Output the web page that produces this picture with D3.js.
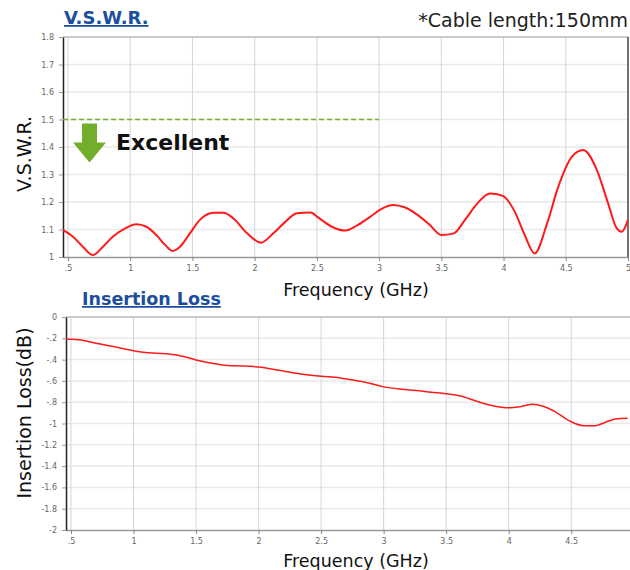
<!DOCTYPE html>
<html>
<head>
<meta charset="utf-8">
<script src="https://cdn.jsdelivr.net/npm/d3@7"></script>
<style>
  body { margin: 0; background: #fff; }
  svg { display: block; font-family: "DejaVu Sans", Verdana, sans-serif; }
</style>
</head>
<body>
<svg width="630" height="570"></svg>
<script>
// frequency ticks shared by both panels
const X_TICKS = [0.5, 1, 1.5, 2, 2.5, 3, 3.5, 4, 4.5, 5];
const X_TICK_LABELS = [".5", "1", "1.5", "2", "2.5", "3", "3.5", "4", "4.5", "5"];

// V.S.W.R. panel
const VSWR_TICKS = [1, 1.1, 1.2, 1.3, 1.4, 1.5, 1.6, 1.7, 1.8];
const VSWR_TICK_LABELS = ["1", "1.1", "1.2", "1.3", "1.4", "1.5", "1.6", "1.7", "1.8"];
const VSWR_FREQ = [0.46, 0.54, 0.62, 0.70, 0.78, 0.86, 0.96, 1.05, 1.13, 1.21, 1.28, 1.34, 1.40, 1.48,
  1.56, 1.67, 1.75, 1.83, 1.94, 2.05, 2.15, 2.24, 2.34, 2.45, 2.51, 2.62, 2.73, 2.82, 2.93, 3.02,
  3.11, 3.21, 3.30, 3.40, 3.50, 3.60, 3.69, 3.79, 3.89, 3.99, 4.09, 4.17, 4.25, 4.35, 4.44, 4.55,
  4.64, 4.75, 4.84, 4.91, 4.95, 5.0];
const VSWR_VAL = [1.098, 1.074, 1.037, 1.007, 1.037, 1.074, 1.104, 1.119, 1.11, 1.08, 1.044, 1.022,
  1.037, 1.086, 1.135, 1.161, 1.161, 1.14, 1.086, 1.052, 1.086, 1.125, 1.159, 1.162, 1.144, 1.11,
  1.096, 1.114, 1.147, 1.175, 1.189, 1.18, 1.156, 1.12, 1.08, 1.086, 1.135, 1.195, 1.231, 1.223,
  1.165, 1.08, 1.013, 1.122, 1.256, 1.365, 1.389, 1.316, 1.195, 1.104, 1.092, 1.135];
const LIMIT_VALUE = 1.5;
const LIMIT_END = 3;

// Insertion loss panel
const IL_TICKS = [0, -0.2, -0.4, -0.6, -0.8, -1, -1.2, -1.4, -1.6, -1.8, -2];
const IL_TICK_LABELS = ["0", "-.2", "-.4", "-.6", "-.8", "-1", "-1.2", "-1.4", "-1.6", "-1.8", "-2"];
const IL_FREQ = [0.46, 0.5, 0.58, 0.70, 0.84, 1.0, 1.08, 1.19, 1.28, 1.40, 1.5, 1.63, 1.75, 1.86, 2.0,
  2.15, 2.30, 2.5, 2.65, 2.74, 2.88, 3.0, 3.14, 3.26, 3.38, 3.5, 3.61, 3.75, 3.90, 4.0, 4.10, 4.19,
  4.28, 4.37, 4.45, 4.5, 4.60, 4.69, 4.77, 4.86, 4.95];
const IL_VAL = [-0.206, -0.21, -0.215, -0.247, -0.278, -0.316, -0.33, -0.34, -0.347, -0.37, -0.403,
  -0.434, -0.456, -0.46, -0.47, -0.497, -0.528, -0.556, -0.572, -0.59, -0.62, -0.656, -0.678, -0.69,
  -0.706, -0.72, -0.74, -0.794, -0.84, -0.853, -0.84, -0.82, -0.84, -0.888, -0.95, -0.984, -1.02,
  -1.02, -0.99, -0.956, -0.95];

const svg = d3.select("svg");

function drawPanel(cfg) {
  const x = d3.scaleLinear().domain(cfg.xDomain).range(cfg.xRange);
  const y = d3.scaleLinear().domain(cfg.yDomain).range(cfg.yRange);
  const [x0, x1] = cfg.xRange;
  const [yb, yt] = cfg.yRange;
  const g = svg.append("g");

  // horizontal grid
  g.selectAll(".hgrid").data(cfg.yTicks.filter(d => y(d) < yb - 1)).enter().append("line")
    .attr("x1", x0).attr("x2", x1)
    .attr("y1", d => y(d)).attr("y2", d => y(d))
    .attr("stroke", "#e9e9e9").attr("stroke-width", 1.5);

  // vertical grid
  const xt = X_TICKS.filter(d => d <= cfg.xDomain[1]);
  g.selectAll(".vgrid").data(xt).enter().append("line")
    .attr("x1", d => x(d)).attr("x2", d => x(d))
    .attr("y1", yt).attr("y2", yb)
    .attr("stroke", "#d6d6d6").attr("stroke-width", 1);

  // top border
  g.append("line").attr("x1", x0).attr("x2", x1).attr("y1", yt).attr("y2", yt)
    .attr("stroke", "#aaa").attr("stroke-width", 1.2);
  if (cfg.rightBorder) {
    g.append("line").attr("x1", x1).attr("x2", x1).attr("y1", yt).attr("y2", yb)
      .attr("stroke", "#222").attr("stroke-width", 1.2);
  }

  // x axis
  const xAxis = d3.axisBottom(x).tickValues(xt)
    .tickFormat(d => X_TICK_LABELS[X_TICKS.indexOf(d)])
    .tickSize(4).tickSizeOuter(0);
  const gx = g.append("g").attr("transform", `translate(0,${yb})`).call(xAxis);
  gx.select(".domain").attr("stroke", "#999").attr("stroke-width", 1.5);
  gx.selectAll(".tick line").attr("stroke", "#888");
  gx.selectAll(".tick text").attr("fill", "#666").attr("font-size", 8).attr("dy", "0.9em")
    .attr("font-family", "DejaVu Sans, sans-serif");

  // y axis
  const yAxis = d3.axisLeft(y).tickValues(cfg.yTicks)
    .tickFormat((d, i) => cfg.yLabels[i])
    .tickSize(4).tickSizeOuter(0);
  const gy = g.append("g").attr("transform", `translate(${x0},0)`).call(yAxis);
  gy.select(".domain").attr("stroke", "#222").attr("stroke-width", 1.5);
  gy.selectAll(".tick line").attr("stroke", "#999");
  gy.selectAll(".tick text").attr("fill", "#666").attr("font-size", 8).attr("x", -9)
    .attr("font-family", "DejaVu Sans, sans-serif");

  // curve
  const line = d3.line().x(d => x(d[0])).y(d => y(d[1])).curve(d3.curveMonotoneX);
  g.append("path")
    .datum(cfg.freq.map((f, i) => [f, cfg.vals[i]]))
    .attr("d", line)
    .attr("fill", "none")
    .attr("stroke", "#ff1a1a")
    .attr("stroke-width", cfg.lineWidth)
    .attr("stroke-linejoin", "round");

  // axis titles
  svg.append("text")
    .attr("x", cfg.xTitlePos[0]).attr("y", cfg.xTitlePos[1])
    .attr("text-anchor", "middle").attr("font-size", 17.5).attr("fill", "#111")
    .text("Frequency (GHz)");
  svg.append("text")
    .attr("transform", `translate(${cfg.yTitlePos[0]},${cfg.yTitlePos[1]}) rotate(-90)`)
    .attr("text-anchor", "middle").attr("font-size", 19).attr("fill", "#111")
    .text(cfg.yTitle);

  // panel heading
  svg.append("text")
    .attr("x", cfg.headPos[0]).attr("y", cfg.headPos[1])
    .attr("font-size", cfg.headSize).attr("font-weight", "bold").attr("fill", "#1b4f9e")
    .attr("text-decoration", "underline")
    .text(cfg.heading);

  return { x, y, g };
}

const vswrPanel = drawPanel({
  xDomain: [0.46, 5], xRange: [63, 628],
  yDomain: [1, 1.8], yRange: [257, 37],
  yTicks: VSWR_TICKS, yLabels: VSWR_TICK_LABELS,
  freq: VSWR_FREQ, vals: VSWR_VAL, lineWidth: 2,
  rightBorder: true,
  xTitlePos: [356, 296], yTitlePos: [31, 154], yTitle: "V.S.W.R.",
  heading: "V.S.W.R.", headPos: [64, 24], headSize: 18
});

drawPanel({
  xDomain: [0.46, 4.97], xRange: [66, 630],
  yDomain: [-2, 0], yRange: [530, 317],
  yTicks: IL_TICKS, yLabels: IL_TICK_LABELS,
  freq: IL_FREQ, vals: IL_VAL, lineWidth: 1.5,
  rightBorder: false,
  xTitlePos: [356, 567], yTitlePos: [31, 413], yTitle: "Insertion Loss(dB)",
  heading: "Insertion Loss", headPos: [82, 305], headSize: 17.5
});

// limit line and "Excellent" marker in the V.S.W.R. panel
const ly = vswrPanel.y(LIMIT_VALUE);
vswrPanel.g.append("line")
  .attr("x1", vswrPanel.x(0.46)).attr("x2", vswrPanel.x(LIMIT_END))
  .attr("y1", ly).attr("y2", ly)
  .attr("stroke", "#78b22a").attr("stroke-width", 1.6).attr("stroke-dasharray", "5,3");

vswrPanel.g.append("path")
  .attr("d", `M82,${ly + 4} L97,${ly + 4} L97,${ly + 23} L106,${ly + 23} L89.5,${ly + 43} L73,${ly + 23} L82,${ly + 23} Z`)
  .attr("fill", "#72ae2b");

svg.append("text")
  .attr("x", 116).attr("y", 150)
  .attr("font-size", 22).attr("font-weight", "bold").attr("fill", "#111")
  .text("Excellent");

svg.append("text")
  .attr("x", 628).attr("y", 27)
  .attr("text-anchor", "end").attr("font-size", 19).attr("fill", "#222")
  .text("*Cable length:150mm");
</script>
</body>
</html>
